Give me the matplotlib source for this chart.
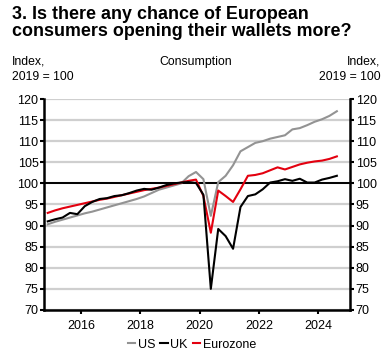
import numpy as np
import matplotlib.pyplot as plt

plt.rcParams['font.family'] = ['Liberation Sans', 'DejaVu Sans']

# quarterly, 2014Q4 .. 2024Q3 (plotted at mid-quarter)
years = 2014.875 + 0.25 * np.arange(40)

us = [90.3, 90.9, 91.4, 91.9, 92.4, 92.9, 93.3, 93.8, 94.3, 94.8,
      95.3, 95.8, 96.3, 96.9, 97.7, 98.5, 99.0, 99.5, 100.0, 101.7,
      102.7, 101.0, 92.3, 100.3, 101.8, 104.3, 107.6, 108.6, 109.6, 110.0,
      110.6, 111.0, 111.4, 112.8, 113.1, 113.8, 114.6, 115.2, 116.0, 117.1]
uk = [91.0, 91.5, 91.9, 93.0, 92.7, 94.6, 95.6, 96.3, 96.5, 97.0,
      97.2, 97.7, 98.3, 98.7, 98.5, 99.0, 99.6, 100.0, 100.2, 100.3,
      100.1, 97.3, 75.0, 89.2, 87.5, 84.5, 94.4, 97.0, 97.4, 98.6,
      100.2, 100.5, 101.0, 100.6, 101.1, 100.2, 100.2, 100.9, 101.3, 101.8]
ez = [93.0, 93.6, 94.1, 94.5, 94.9, 95.3, 95.7, 96.1, 96.4, 96.8,
      97.2, 97.6, 98.0, 98.4, 98.7, 99.0, 99.4, 99.8, 100.2, 100.6,
      100.9, 97.0, 88.3, 98.3, 97.0, 95.6, 98.6, 101.8, 102.0, 102.4,
      103.1, 103.8, 103.3, 103.9, 104.5, 104.9, 105.2, 105.4, 105.8, 106.4]

fig = plt.figure(figsize=(3.84, 3.60), dpi=100)
ax = fig.add_axes([0.1146, 0.139, 0.797, 0.586])

ax.set_ylim(70, 120)
ax.set_xlim(2014.75, 2025.07)
ax.set_yticks(np.arange(70, 121, 5))
ax.set_xticks([2016, 2018, 2020, 2022, 2024])
ax.grid(axis='y', color='#cfcfcf', linewidth=1.6)
ax.set_axisbelow(True)
ax.axhline(100, color='black', linewidth=1.4, zorder=2)

ax.plot(years, us, color='#939393', linewidth=1.5, label='US', zorder=3)
ax.plot(years, uk, color='black', linewidth=1.5, label='UK', zorder=4)
ax.plot(years, ez, color='#e3000f', linewidth=1.5, label='Eurozone', zorder=3)

ax.spines['top'].set_visible(False)
for s in ['left', 'right', 'bottom']:
    ax.spines[s].set_linewidth(1.8)
ax.tick_params(axis='y', which='both', left=True, right=True,
               labelleft=True, labelright=True, labelsize=9,
               length=3, width=1.5, pad=1)
ax.tick_params(axis='x', labelsize=9, length=3, width=1.5, pad=4)

fig.text(0.03, 0.983, '3. Is there any chance of European\nconsumers opening their wallets more?',
         fontsize=12.9, fontweight='bold', va='top', ha='left', linespacing=1.0)
fig.text(0.03, 0.845, 'Index,\n2019 = 100', fontsize=8.8, va='top', ha='left',
         linespacing=1.4)
fig.text(0.99, 0.845, 'Index,\n2019 = 100', fontsize=8.8, va='top', ha='right',
         linespacing=1.4, multialignment='right')
fig.text(0.51, 0.845, 'Consumption', fontsize=8.8, va='top', ha='center')

fig.legend(loc='lower center', bbox_to_anchor=(0.5, -0.005), ncol=3,
           frameon=False, fontsize=9, handlelength=0.6, handletextpad=0.2,
           columnspacing=0.4)

fig.savefig('out.png', dpi=100)
